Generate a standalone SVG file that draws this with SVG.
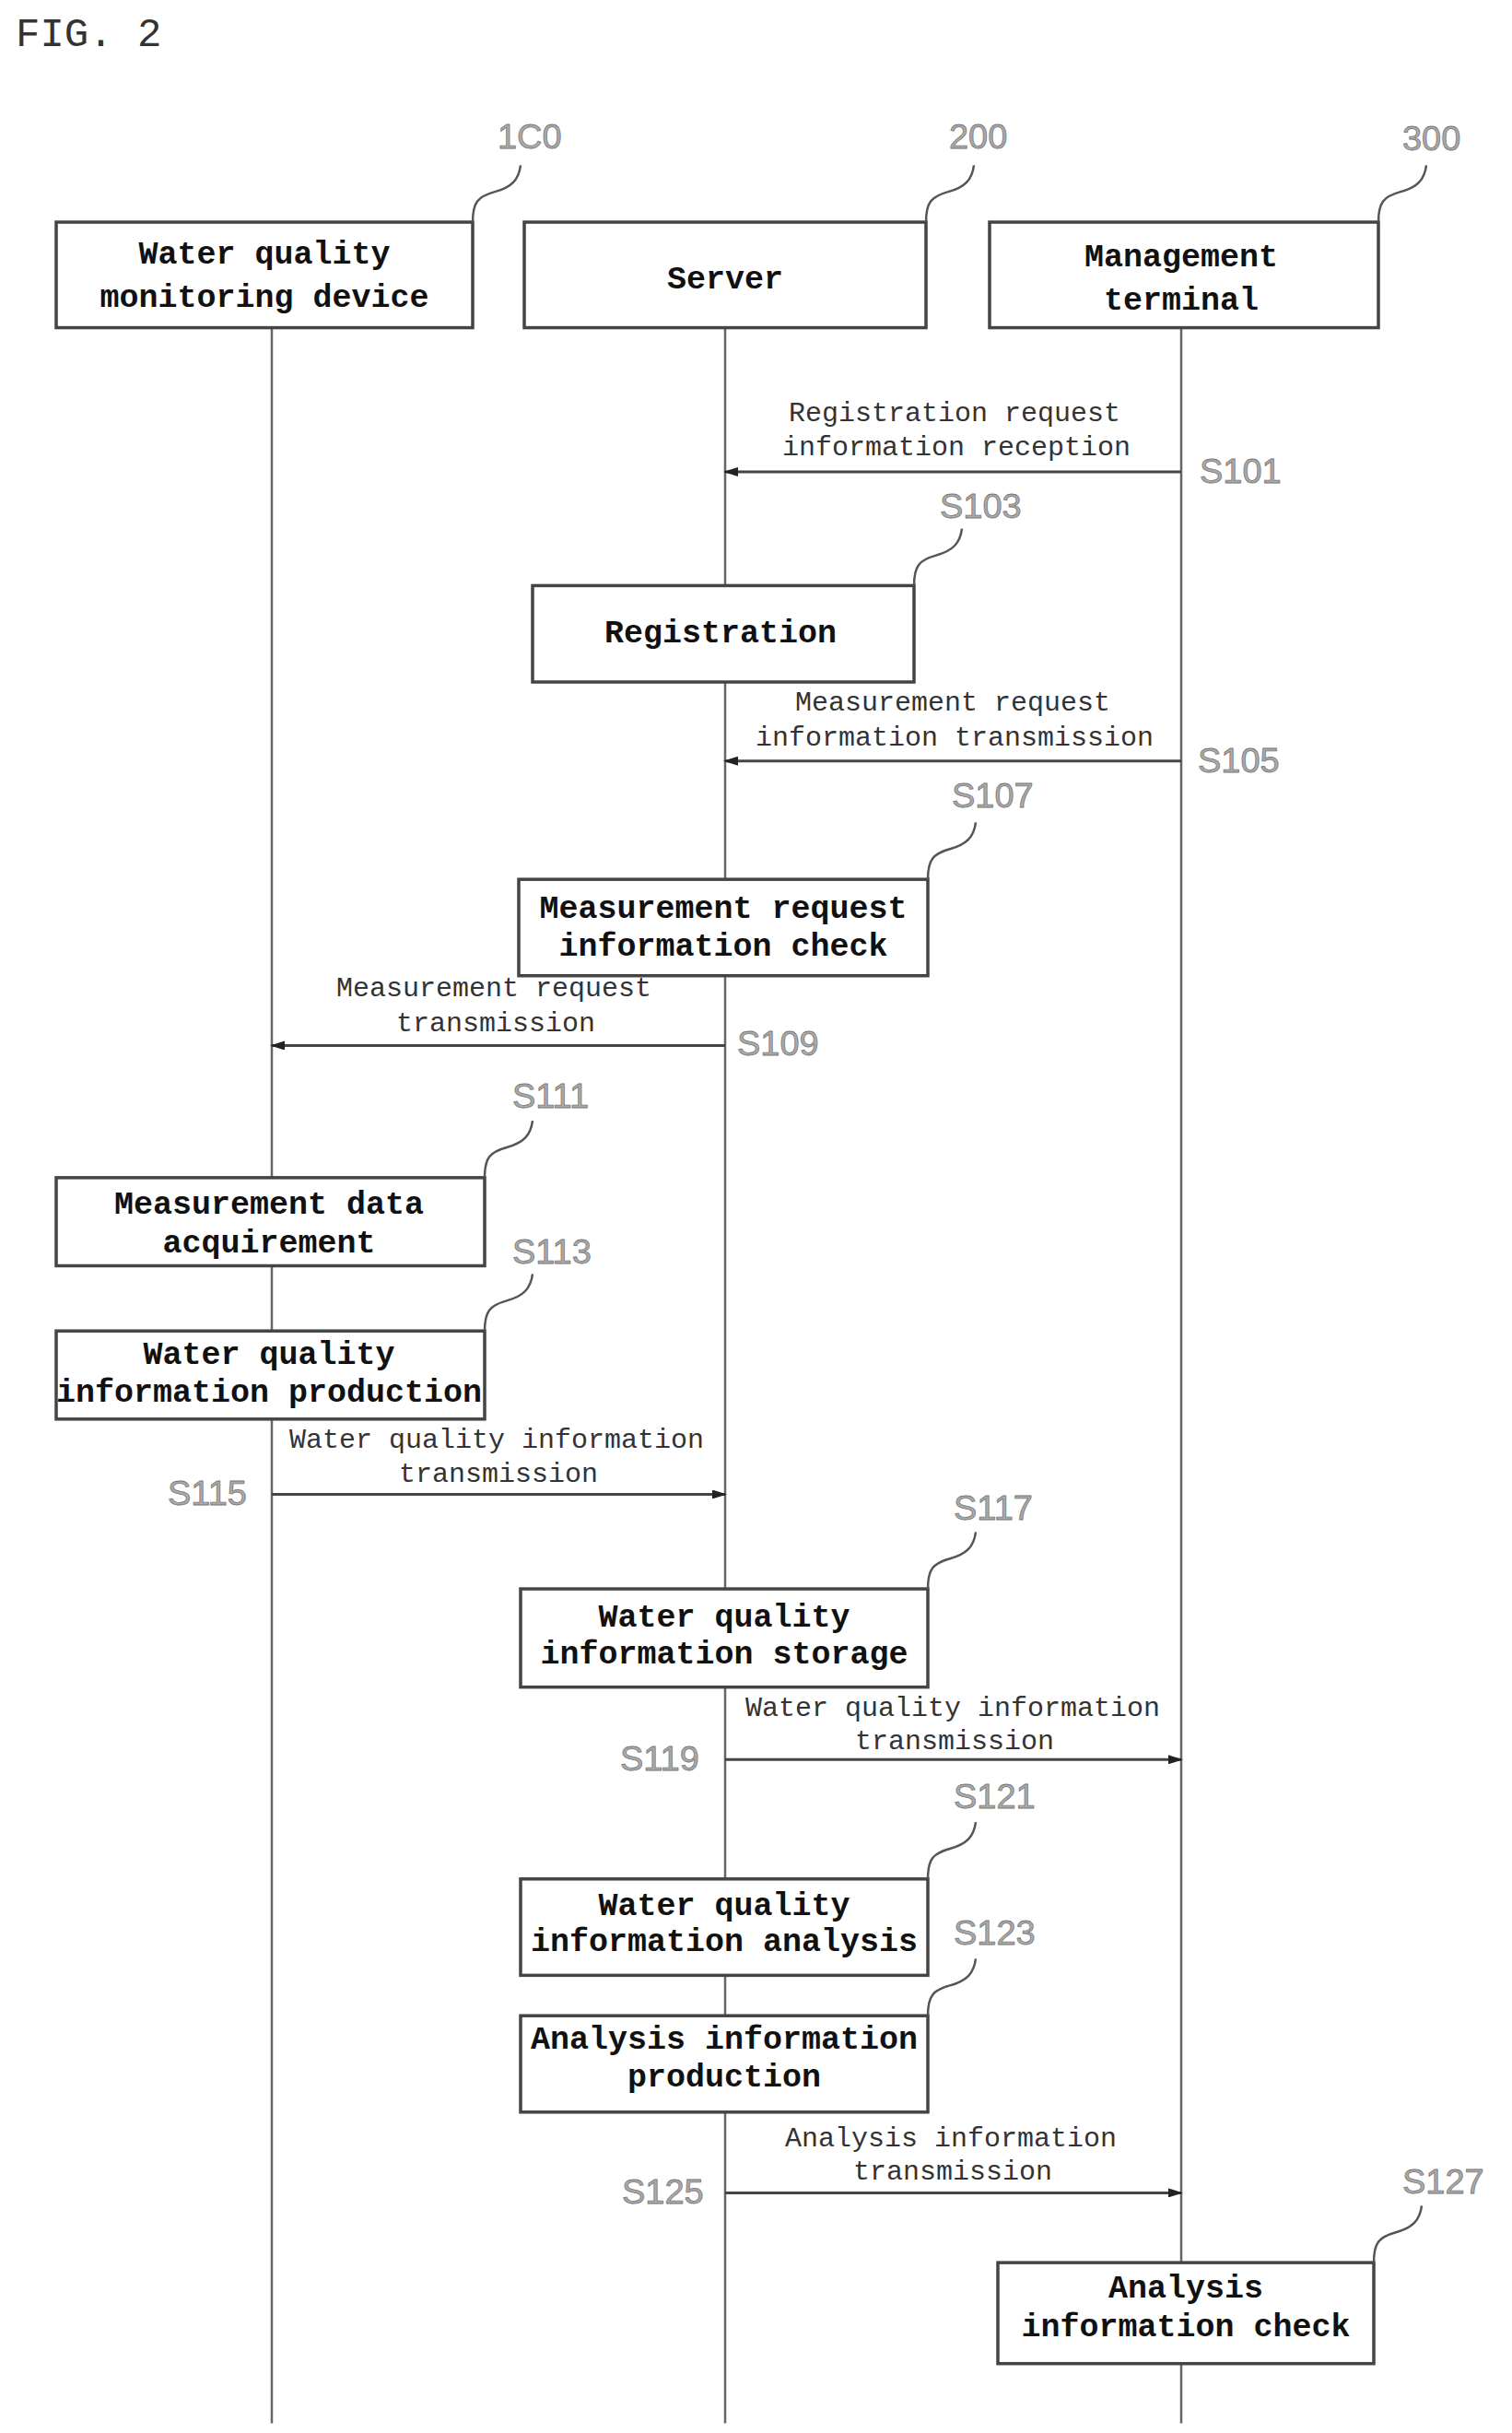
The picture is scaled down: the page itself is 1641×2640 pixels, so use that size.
<svg xmlns="http://www.w3.org/2000/svg" width="1641" height="2640" viewBox="0 0 1641 2640">
<style>
.box{fill:#fff;stroke:#444;stroke-width:3.5}
.bt{font-family:"Liberation Mono",monospace;font-weight:bold;font-size:35px;fill:#111;text-anchor:middle}
.mt{font-family:"Liberation Mono",monospace;font-size:30px;fill:#333;text-anchor:middle}
.st{font-family:"Liberation Sans",sans-serif;font-size:38px;fill:#aaa;stroke:#777;stroke-width:0.8}
.life{stroke:#666;stroke-width:2.5;fill:none}
.msg{stroke:#444;stroke-width:3;fill:none;marker-end:url(#ah)}
.ld{stroke:#555;stroke-width:2.5;fill:none}
</style>
<defs>
<marker id="ah" markerWidth="16" markerHeight="10" refX="14" refY="5" orient="auto" markerUnits="userSpaceOnUse" viewBox="0 0 16 10"><path d="M0,0 L16,5 L0,10 z" fill="#222"/></marker>
<path id="curl" d="M0,0 C0,-22 6,-28 24,-33 C42,-38 50,-46 52,-62" class="ld"/>
</defs>
<text x="17" y="50" style="font-family:'Liberation Mono',monospace;font-size:44px;fill:#333">FIG. 2</text>
<g transform="scale(1,0.996)">
<g id="lifelines">
<line class="life" x1="295" y1="357" x2="295" y2="2640"/>
<line class="life" x1="787" y1="357" x2="787" y2="2640"/>
<line class="life" x1="1282" y1="357" x2="1282" y2="2640"/>
</g>
<g id="n100"><rect class="box" x="61" y="242" width="452" height="115"/><text class="bt" x="287" y="287">Water quality</text><text class="bt" x="287" y="334">monitoring device</text><use href="#curl" x="513" y="242"/><text class="st" x="540" y="162">1C0</text></g>
<g id="n200"><rect class="box" x="569" y="242" width="436" height="115"/><text class="bt" x="787" y="314">Server</text><use href="#curl" x="1005" y="242"/><text class="st" x="1030" y="162">200</text></g>
<g id="n300"><rect class="box" x="1074" y="242" width="422" height="115"/><text class="bt" x="1282" y="290">Management</text><text class="bt" x="1282" y="337">terminal</text><use href="#curl" x="1496" y="242"/><text class="st" x="1522" y="164">300</text></g>
<g id="connectors">
<line class="msg" x1="1282" y1="514" x2="787" y2="514"/>
<line class="msg" x1="1282" y1="829" x2="787" y2="829"/>
<line class="msg" x1="787" y1="1139" x2="295" y2="1139"/>
<line class="msg" x1="295" y1="1628" x2="787" y2="1628"/>
<line class="msg" x1="787" y1="1917" x2="1282" y2="1917"/>
<line class="msg" x1="787" y1="2389" x2="1282" y2="2389"/>
</g>
<g id="m101"><text class="mt" x="1036" y="459">Registration request</text><text class="mt" x="1038" y="496">information reception</text><text class="st" x="1302" y="526">S101</text></g>
<g id="s103"><rect class="box" x="578" y="638" width="414" height="105"/><text class="bt" x="782" y="700">Registration</text><use href="#curl" x="992" y="638"/><text class="st" x="1020" y="564">S103</text></g>
<g id="m105"><text class="mt" x="1034" y="774">Measurement request</text><text class="mt" x="1036" y="812">information transmission</text><text class="st" x="1300" y="841">S105</text></g>
<g id="s107"><rect class="box" x="563" y="958" width="444" height="105"/><text class="bt" x="785" y="1000">Measurement request</text><text class="bt" x="785" y="1041">information check</text><use href="#curl" x="1007" y="958"/><text class="st" x="1033" y="880">S107</text></g>
<g id="m109"><text class="mt" x="536" y="1085">Measurement request</text><text class="mt" x="538" y="1123">transmission</text><text class="st" x="800" y="1150">S109</text></g>
<g id="s111"><rect class="box" x="61" y="1283" width="465" height="96"/><text class="bt" x="292" y="1322">Measurement data</text><text class="bt" x="292" y="1364">acquirement</text><use href="#curl" x="526" y="1283"/><text class="st" x="556" y="1207">S111</text></g>
<g id="s113"><rect class="box" x="61" y="1450" width="465" height="96"/><text class="bt" x="292" y="1486">Water quality</text><text class="bt" x="292" y="1527">information production</text><use href="#curl" x="526" y="1450"/><text class="st" x="556" y="1377">S113</text></g>
<g id="m115"><text class="mt" x="539" y="1577">Water quality information</text><text class="mt" x="541" y="1614">transmission</text><text class="st" x="182" y="1640">S115</text></g>
<g id="s117"><rect class="box" x="565" y="1731" width="442" height="107"/><text class="bt" x="786" y="1772">Water quality</text><text class="bt" x="786" y="1812">information storage</text><use href="#curl" x="1007" y="1731"/><text class="st" x="1035" y="1656">S117</text></g>
<g id="m119"><text class="mt" x="1034" y="1869">Water quality information</text><text class="mt" x="1036" y="1906">transmission</text><text class="st" x="673" y="1929">S119</text></g>
<g id="s121"><rect class="box" x="565" y="2047" width="442" height="105"/><text class="bt" x="786" y="2086">Water quality</text><text class="bt" x="786" y="2126">information analysis</text><use href="#curl" x="1007" y="2047"/><text class="st" x="1035" y="1970">S121</text></g>
<g id="s123"><rect class="box" x="565" y="2196" width="442" height="105"/><text class="bt" x="786" y="2232">Analysis information</text><text class="bt" x="786" y="2273">production</text><use href="#curl" x="1007" y="2196"/><text class="st" x="1035" y="2118">S123</text></g>
<g id="m125"><text class="mt" x="1032" y="2338">Analysis information</text><text class="mt" x="1034" y="2375">transmission</text><text class="st" x="675" y="2401">S125</text></g>
<g id="s127"><rect class="box" x="1083" y="2465" width="408" height="110"/><text class="bt" x="1287" y="2503">Analysis</text><text class="bt" x="1287" y="2545">information check</text><use href="#curl" x="1491" y="2465"/><text class="st" x="1522" y="2390">S127</text></g>
</g>
</svg>
